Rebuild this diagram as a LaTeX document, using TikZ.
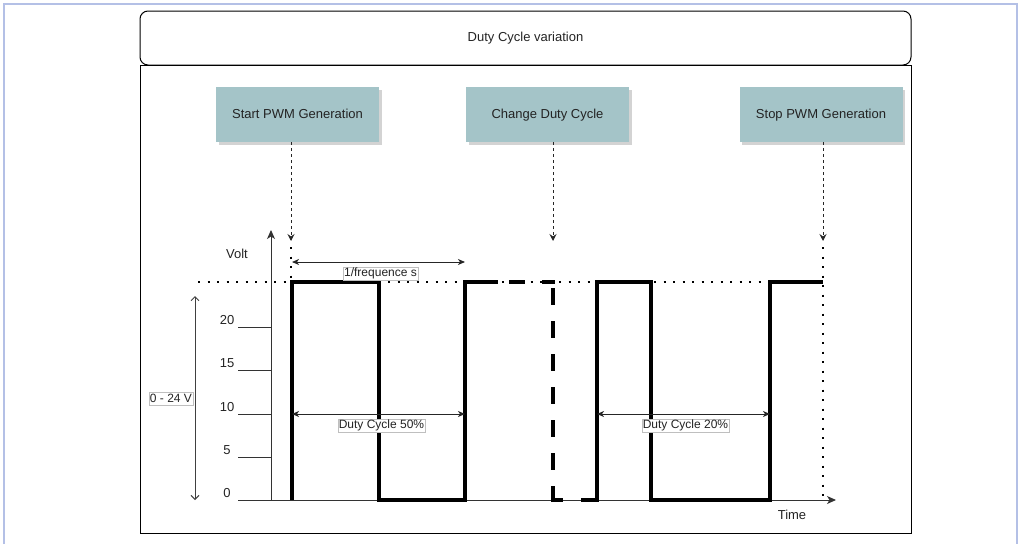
\documentclass[tikz,border=0pt]{standalone}
\usepackage{fontspec}
\setmainfont{Liberation Sans}
\usetikzlibrary{arrows.meta,shadows}
\definecolor{boxfill}{RGB}{164,196,200}
\definecolor{framecol}{RGB}{180,192,230}
\definecolor{txt}{RGB}{35,35,35}
\begin{document}
\begin{tikzpicture}[x=1pt,y=-1pt,
  font=\fontsize{13}{15}\selectfont, text=txt,
  pwmbox/.style={fill=boxfill, minimum width=163pt, minimum height=55pt, inner sep=0pt,
    text height=9.5pt, text depth=2.5pt,
    drop shadow={shadow xshift=2.5pt, shadow yshift=-2.5pt, opacity=0.35}},
  lblbox/.style={draw=black!25, fill=white, line width=0.6pt, inner xsep=1pt, inner ysep=0.8pt,
    text height=8.8pt, text depth=2.4pt, font=\fontsize{12}{13}\selectfont},
  txtplain/.style={inner sep=0pt, text height=9.5pt, text depth=2.5pt},
  evarrow/.style={draw=black!85, line width=1pt, dash pattern=on 3pt off 3pt,
    -{Stealth[length=7pt,width=7pt,inset=2.5pt]}},
  dotline/.style={draw=black, line width=2pt, dash pattern=on 2pt off 7.5pt},
  myaxis/.style={draw=black!80, line width=1pt, -{Stealth[length=9pt,width=8pt,inset=2.5pt]}},
  mytick/.style={draw=black!80, line width=1pt},
  dimarrow/.style={draw=black!85, line width=1pt,
    {Stealth[length=7pt,width=6pt,inset=2pt]}-{Stealth[length=7pt,width=6pt,inset=2pt]}},
  vrangearrow/.style={draw=black!75, line width=1pt,
    {Straight Barb[length=4pt,width=8pt]}-{Straight Barb[length=4pt,width=8pt]}},
  waveline/.style={draw=black, line width=4pt, line join=miter, line cap=butt},
  wavedash/.style={waveline, dash pattern=on 17pt off 16pt}]
\useasboundingbox (0,0) rectangle (1021,544);
% outer screen frame
\draw[framecol, line width=1.5pt] (4,544) -- (4,4) -- (1017,4) -- (1017,544);

% title and frame
\node[draw=black, line width=1pt, rounded corners=8pt, minimum width=771pt, minimum height=54pt, inner sep=0pt, text height=9.5pt, text depth=2.5pt] (title) at (525.5,38) {Duty Cycle variation};
\node[draw=black, line width=1pt, minimum width=771pt, minimum height=468pt, inner sep=0pt] (frame) at (525.5,299) {};

% event boxes
\node[pwmbox] (start) at (297.5,114.5) {Start PWM Generation};
\node[pwmbox] (change) at (547.5,114.5) {Change Duty Cycle};
\node[pwmbox] (stop) at (821,114.5) {Stop PWM Generation};

% coordinates
\coordinate (sA) at (291,241);
\coordinate (cA) at (553,241);
\coordinate (pA) at (823,241);
\coordinate (sHigh) at (291,282);
\coordinate (pLow) at (823,500);
\coordinate (dotL) at (198,282);
\coordinate (dotR) at (823,282);
\coordinate (yb) at (271,500);
\coordinate (yt) at (271,230);
\coordinate (xo) at (238,500);
\coordinate (xe) at (836,500);
\coordinate (rT) at (195,296);
\coordinate (rB) at (195,500);
\coordinate (fL) at (292,262);
\coordinate (fR) at (465,262);
\coordinate (d5L) at (292,414);
\coordinate (d5R) at (465,414);
\coordinate (d2L) at (597,414);
\coordinate (d2R) at (770,414);
\foreach \v/\y in {20/327,15/370,10/414,5/457}{
  \coordinate (t\v a) at (238,\y);
  \coordinate (t\v b) at (271,\y);
}

% event arrows
\draw[evarrow] (start.south -| sA) -- (sA);
\draw[evarrow] (change.south -| cA) -- (cA);
\draw[evarrow] (stop.south -| pA) -- (pA);

% dotted guides
\draw[dotline] ([yshift=-6pt]sA) -- (sHigh);
\draw[dotline] (dotL) -- (dotR);
\draw[dotline] ([yshift=-6pt]pA) -- (pLow);

% axes
\draw[myaxis] (yb) -- (yt);
\draw[myaxis] (xo) -- (xe);
\foreach \v in {20,15,10,5}{ \draw[mytick] (t\v a) -- (t\v b); }
\node[txtplain] (l20) at (227,321) {20};
\node[txtplain] (l15) at (227,364) {15};
\node[txtplain] (l10) at (227,408) {10};
\node[txtplain] (l5) at (227,451) {5};
\node[txtplain] (l0) at (227,494) {0};
\node[txtplain] (volt) at (237,255) {Volt};
\node[txtplain] (time) at (792,516) {Time};

% voltage range
\draw[vrangearrow] (rT) -- (rB);
\node[lblbox] (rangeLbl) at (171,399) {0 - 24 V};

% waveform
\draw[waveline] (292,500) -- (292,282) -- (379,282) -- (379,500) -- (465,500) -- (465,282) -- (498,282);
\draw[waveline] (509,282) -- (525,282);
\draw[waveline] (542,282) -- (555,282);
\draw[wavedash] (553,288) -- (553,486);
\draw[waveline] (553,486) -- (553,500) -- (563,500);
\draw[waveline] (581,500) -- (597,500) -- (597,282) -- (651,282) -- (651,500) -- (770,500) -- (770,282) -- (823,282);

% dimension arrows
\draw[dimarrow] (fL) -- (fR);
\node[lblbox] (freqLbl) at (380.5,273.5) {1/frequence s};
\draw[dimarrow] (d5L) -- (d5R);
\node[lblbox] (d5Lbl) at (381.5,425.5) {Duty Cycle 50\%};
\draw[dimarrow] (d2L) -- (d2R);
\node[lblbox] (d2Lbl) at (685.5,425.5) {Duty Cycle 20\%};
\end{tikzpicture}
\end{document}
